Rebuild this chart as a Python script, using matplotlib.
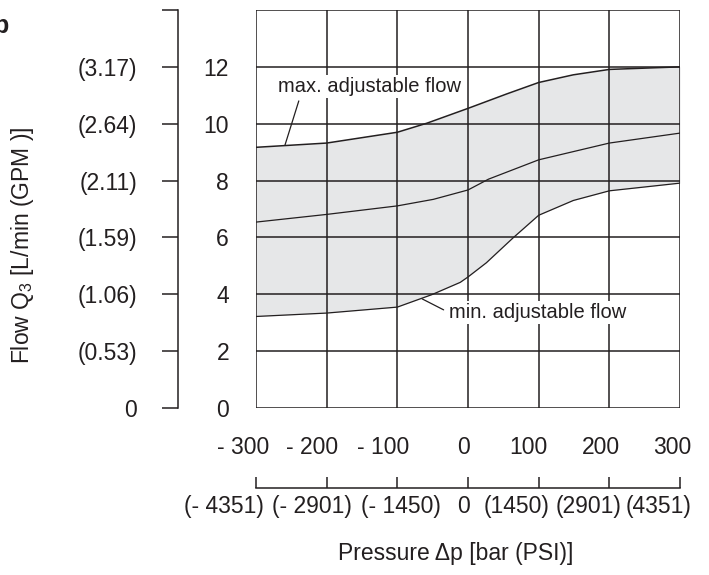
import numpy as np
import matplotlib.pyplot as plt
from matplotlib import transforms

plt.rcParams['font.family'] = ['Liberation Sans', 'DejaVu Sans']
plt.rcParams['mathtext.fontset'] = 'custom'
plt.rcParams['mathtext.rm'] = 'Liberation Sans'

# pressure in bar, flow in L/min
p_max = [-300, -200, -100, -58, 0, 55, 100, 149, 200, 300]
q_max = [9.17, 9.32, 9.70, 10.02, 10.54, 11.05, 11.45, 11.72, 11.91, 12.0]

p_mid = [-300, -200, -100, -49, 0, 29, 100, 200, 300]
q_mid = [6.54, 6.81, 7.11, 7.34, 7.67, 8.05, 8.73, 9.32, 9.67]

p_min = [-300, -200, -100, -51, -11, 0, 26, 64, 100, 149, 200, 300]
q_min = [3.22, 3.34, 3.55, 3.99, 4.42, 4.61, 5.11, 5.99, 6.78, 7.30, 7.64, 7.91]

bar_ticks = [-300, -200, -100, 0, 100, 200, 300]
bar_labels = ['- 300', '- 200', '- 100', '0', '100', '200', '300']
psi_labels = ['(- 4351)', '(- 2901)', '(- 1450)', '0', '(1450)', '(2901)', '(4351)']
lmin_ticks = [0, 2, 4, 6, 8, 10, 12]
gpm_labels = ['0', '(0.53)', '(1.06)', '(1.59)', '(2.11)', '(2.64)', '(3.17)']

# small horizontal nudges (px) of the bottom labels, as in the original drawing
bar_shift = [-13, -15, -14, -5, -10, -8, -8]
psi_shift = [-32, -15, 4, -5, -22, -21, -21]

ink = '#231f20'
fs = 16.5

fig = plt.figure(figsize=(7.09, 5.75), dpi=100)
ax = fig.add_axes([0.3611, 0.2904, 0.598, 0.6922])

xx = np.linspace(-300, 300, 601)
top = np.interp(xx, p_max, q_max)
bot = np.interp(xx, p_min, q_min)
ax.fill_between(xx, bot, top, color='#e6e7e8', lw=0, zorder=0)

for x in bar_ticks:
    ax.axvline(x, color=ink, lw=1.1, zorder=1)
for y in range(0, 15, 2):
    ax.axhline(y, color=ink, lw=1.1, zorder=1)

ax.plot(p_max, q_max, color=ink, lw=1.1, zorder=2)
ax.plot(p_mid, q_mid, color=ink, lw=0.9, zorder=2)
ax.plot(p_min, q_min, color=ink, lw=0.9, zorder=2)

ax.set_xlim(-300, 300)
ax.set_ylim(0, 14)
for s in ax.spines.values():
    s.set_visible(False)

ax.set_xticks(bar_ticks, [])
ax.set_yticks(lmin_ticks, [str(v) for v in lmin_ticks])
ax.tick_params(axis='x', length=0)
ax.tick_params(axis='y', length=0, pad=19.4, labelsize=fs, colors=ink)

# bar labels and PSI labels under the plot
blend = transforms.blended_transform_factory(ax.transData, ax.transAxes)
for x, lab, sh in zip(bar_ticks, bar_labels, bar_shift):
    tr = blend + transforms.ScaledTranslation(sh / 100, 0, fig.dpi_scale_trans)
    ax.text(x, -0.098, lab, transform=tr, ha='center', va='center',
            fontsize=fs, color=ink, clip_on=False)
for x, lab, sh in zip(bar_ticks, psi_labels, psi_shift):
    tr = blend + transforms.ScaledTranslation(sh / 100, 0, fig.dpi_scale_trans)
    ax.text(x, -0.247, lab, transform=tr, ha='center', va='center',
            fontsize=fs, color=ink, clip_on=False)

# secondary GPM axis on the left
ay2 = ax.secondary_yaxis(-0.184)
ay2.set_yticks(lmin_ticks + [14], gpm_labels + [''])
ay2.spines['left'].set_color(ink)
ay2.spines['left'].set_linewidth(1.1)
ay2.tick_params(axis='y', direction='out', length=11.5, width=1.1, pad=18,
                labelsize=fs, colors=ink)

# secondary PSI axis line at the bottom
ax2 = ax.secondary_xaxis(-0.201)
ax2.set_xticks(bar_ticks, [])
ax2.spines['bottom'].set_color(ink)
ax2.spines['bottom'].set_linewidth(1.1)
ax2.tick_params(axis='x', direction='in', length=8, width=1.1, colors=ink)

# annotations
ax.annotate('max. adjustable flow', xy=(-259, 9.25), xytext=(-139, 11.3),
            fontsize=14.5, color=ink, ha='center', va='center',
            bbox=dict(boxstyle='square,pad=0.1', fc='white', ec='none'),
            arrowprops=dict(arrowstyle='-', color=ink, lw=0.9, shrinkA=2, shrinkB=0,
                            relpos=(0.12, 0)))
ax.annotate('min. adjustable flow', xy=(-65, 3.84), xytext=(99, 3.35),
            fontsize=14.5, color=ink, ha='center', va='center',
            bbox=dict(boxstyle='square,pad=0.1', fc='white', ec='none'),
            arrowprops=dict(arrowstyle='-', color=ink, lw=0.9, shrinkA=3, shrinkB=0,
                            relpos=(0, 0.5)))

fig.text(0.643, 0.038, 'Pressure \u0394p [bar (PSI)]', fontsize=16.5, color=ink,
         ha='center', va='center')
fig.text(0.032, 0.574, 'Flow Q$_\\mathregular{3}$ [L/min (GPM )]', fontsize=16.5,
         color=ink, rotation=90, ha='center', va='center')
fig.text(0.012, 0.955, 'b', fontsize=18, fontweight='bold', color=ink,
         ha='right', va='center')

fig.savefig('out.png', dpi=100)
